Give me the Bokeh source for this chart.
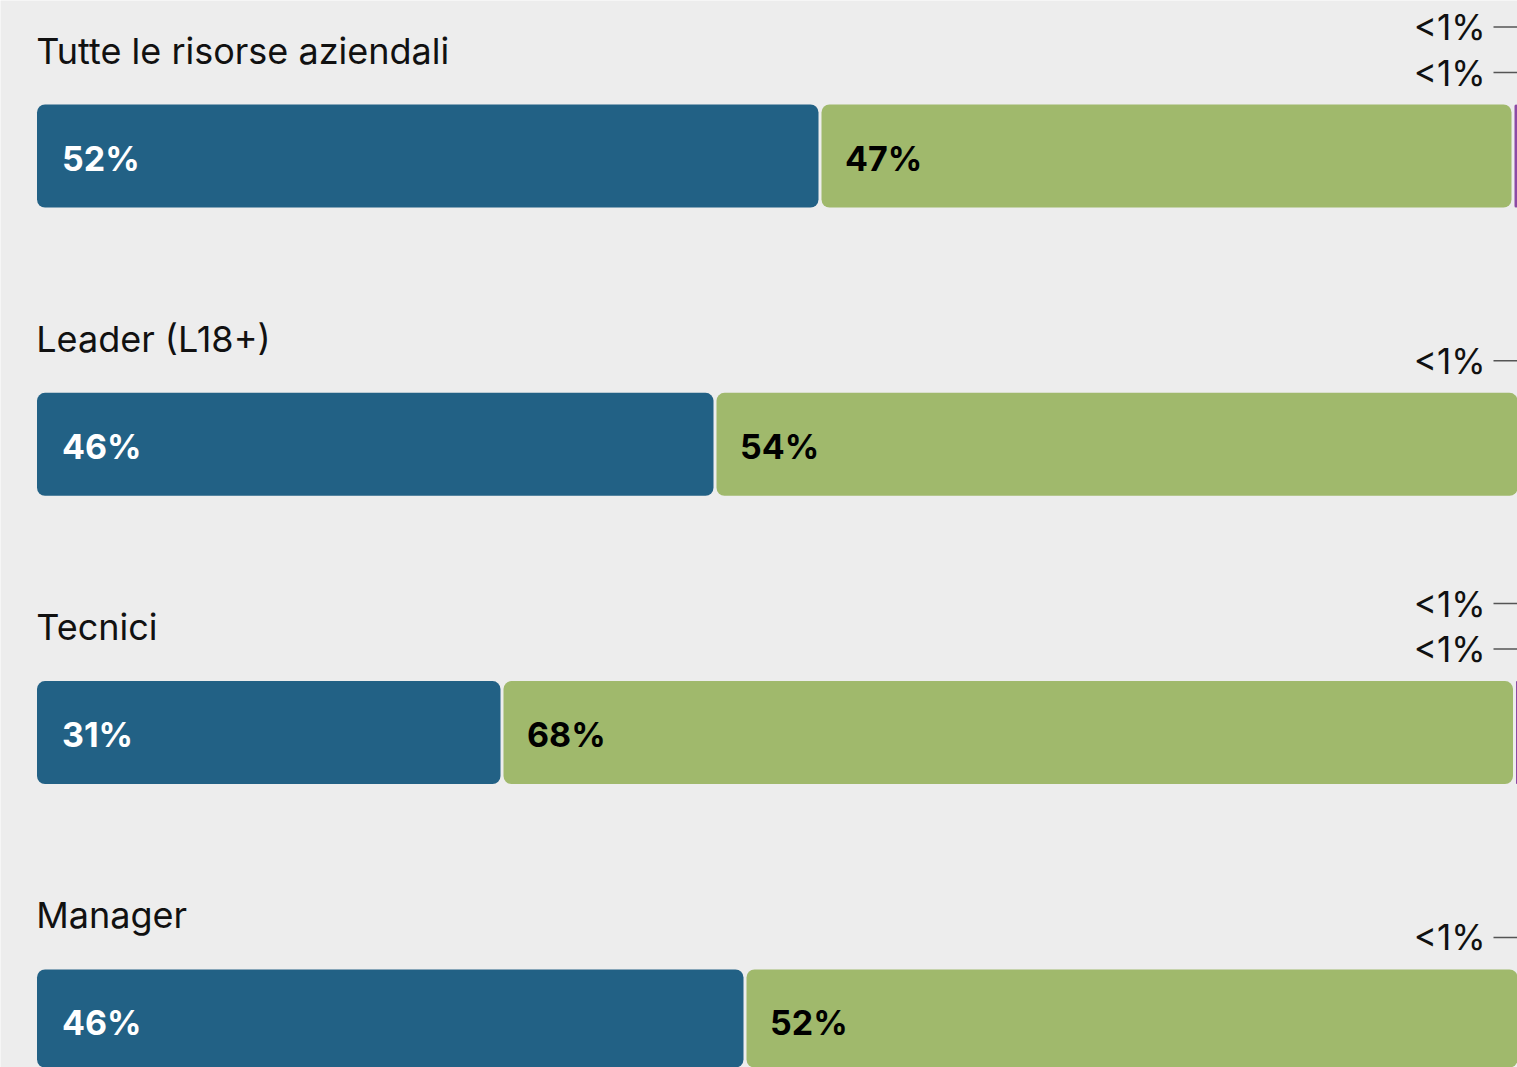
from bokeh.plotting import figure
from bokeh.models import Range1d, ColumnDataSource
from bokeh.core.properties import value
from bokeh.embed import file_html
from bokeh.resources import INLINE

# ---- data ----
groups = ["Tutte le risorse aziendali", "Leader (L18+)", "Tecnici", "Manager"]
seg1 = [52.2, 45.2, 31.0, 47.2]
seg2 = [46.2, 54.0, 67.5, 52.0]
seg3 = [0.4, 0.4, 0.4, 0.4]
seg4 = [0.4, 0.0, 0.4, 0.0]
seg1_labels = ["52%", "46%", "31%", "46%"]
seg2_labels = ["47%", "54%", "68%", "52%"]
small_label = "<1%"

colors = ["#226185", "#A0B96C", "#8C4BA5", "#9A9A9A"]
text_colors = ["white", "black"]

# ---- layout constants (pixels) ----
W, H = 1517, 1067
X0 = 36.5          # pixel of 0%
S = 15.0           # pixels per percentage point
first_center = 155.5
row_step = 288.3
bar_h = 103
gap = 3 / S
font = "Inter"

p = figure(width=W, height=H, output_backend="svg", toolbar_location=None,
           x_range=Range1d(-X0 / S, (W - X0) / S), y_range=Range1d(H, 0),
           min_border=0, background_fill_color="#EDEDED",
           border_fill_color="#EDEDED", outline_line_color=None)
p.axis.visible = False
p.grid.visible = False

series = [seg1, seg2, seg3, seg4]
centers = [first_center + i * row_step for i in range(len(groups))]

for si, seg in enumerate(series):
    lefts, rights, ys = [], [], []
    for gi in range(len(groups)):
        if seg[gi] <= 0:
            continue
        start = sum(series[k][gi] for k in range(si))
        end = start + seg[gi]
        lefts.append(start + (gap / 2 if si > 0 else 0))
        rights.append(end - gap / 2)
        ys.append(centers[gi])
    src = ColumnDataSource(dict(left=lefts, right=rights, y=ys))
    p.hbar(y="y", left="left", right="right", height=bar_h, source=src,
           fill_color=colors[si], line_color=None, border_radius=8)

# bar labels
for si, (seg, labs) in enumerate([(seg1, seg1_labels), (seg2, seg2_labels)]):
    xs, ys = [], []
    for gi in range(len(groups)):
        start = sum(series[k][gi] for k in range(si))
        xs.append(start + 25 / S)
        ys.append(centers[gi] + 2)
    p.text(x=xs, y=ys, text=labs, text_font=value(font), text_font_size="34px",
           text_font_style="bold", text_color=text_colors[si],
           text_align="left", text_baseline="middle")

# group titles
p.text(x=[-0.05] * len(groups), y=[c - bar_h / 2 - 54 for c in centers], text=groups,
       text_font=value(font), text_font_size="36px", text_color="#111111",
       text_align="left", text_baseline="middle")

# small-value callouts
label_right = (1485 - X0) / S
lx, ly, lt = [], [], []
line_xs, line_ys = [], []
for gi in range(len(groups)):
    for k, si in enumerate([2, 3]):
        if series[si][gi] <= 0:
            continue
        yy = centers[gi] - bar_h / 2 - 32 - 45.5 * k
        start = sum(series[j][gi] for j in range(si))
        lx.append(label_right)
        ly.append(yy)
        lt.append(small_label)
        line_xs.append([label_right + 8 / S, start + series[si][gi] / 2 + 1])
        line_ys.append([yy, yy])
p.text(x=lx, y=ly, text=lt, text_font=value(font), text_font_size="35px",
       text_color="#111111", text_align="right", text_baseline="middle")
p.multi_line(xs=line_xs, ys=line_ys, line_color="#555555", line_width=1.5)

open("out.html", "w").write(file_html(p, INLINE))
